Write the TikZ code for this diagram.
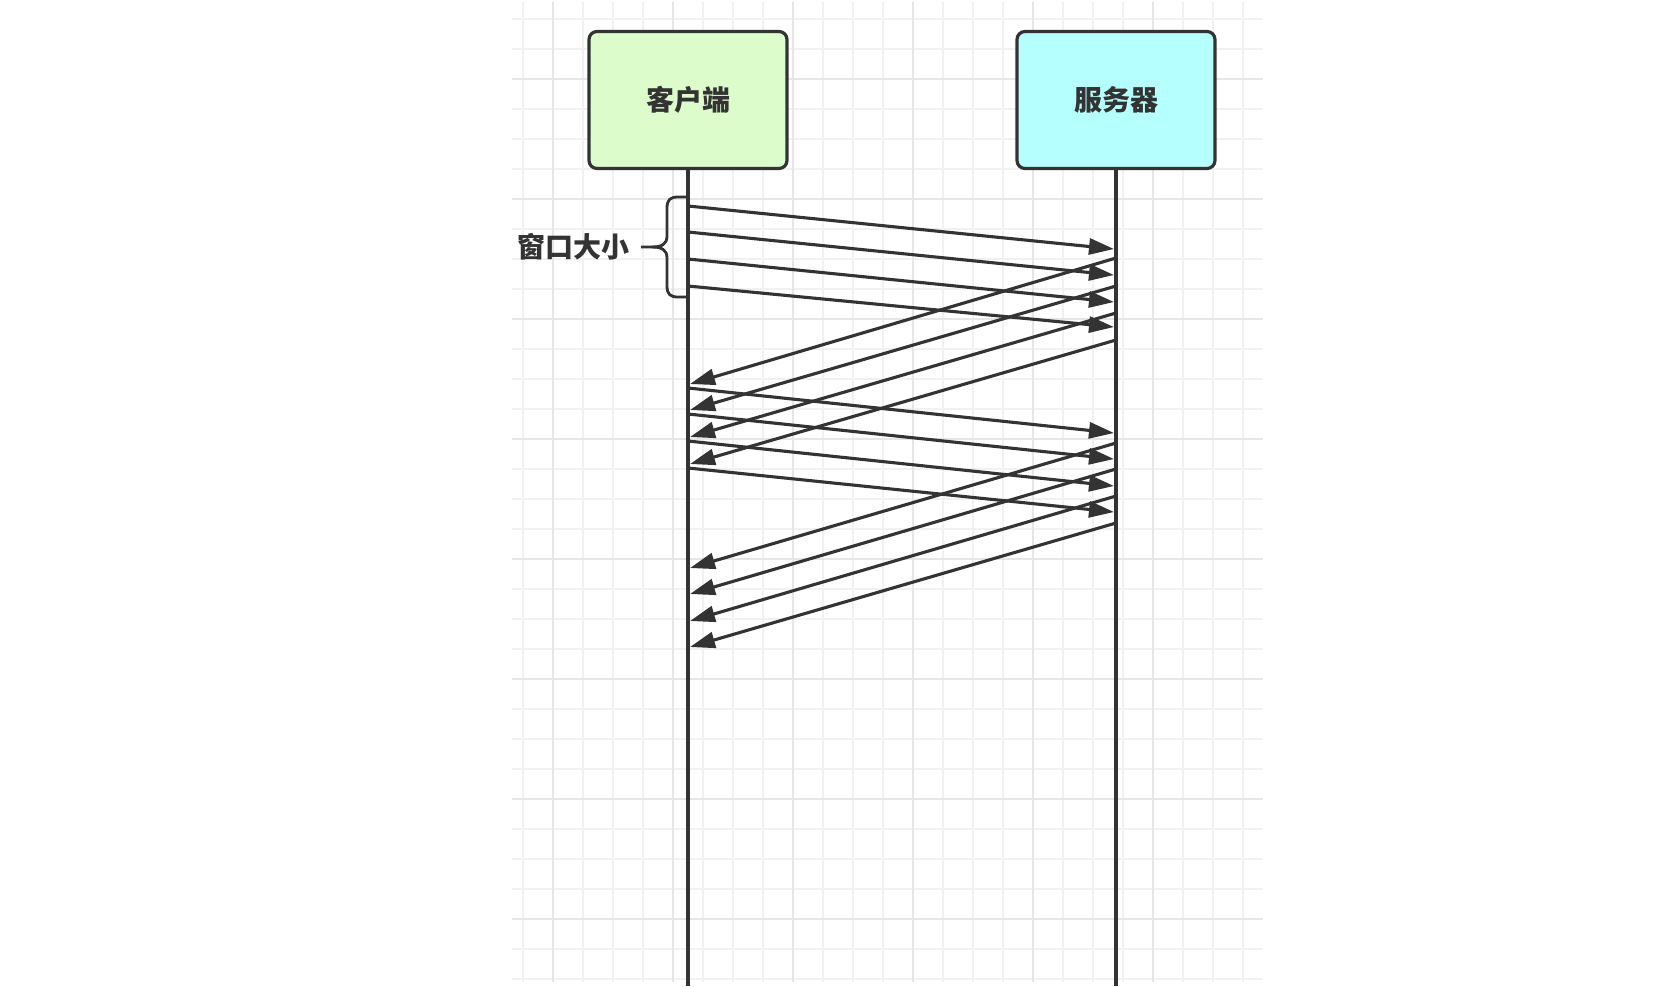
\documentclass[tikz,border=0pt]{standalone}
\usepackage{fontspec}
\newfontfamily\cjk{Noto Sans CJK SC}
\usetikzlibrary{arrows.meta}
\definecolor{ink}{HTML}{333333}
\definecolor{cgreen}{HTML}{DCFCCB}
\definecolor{ccyan}{HTML}{B5FFFE}
\definecolor{gminor}{HTML}{F1F1F1}
\definecolor{gmajor}{HTML}{E6E6E6}
\tikzset{
  minorline/.style={gminor, line width=1.6pt},
  majorline/.style={gmajor, line width=2pt},
  actor/.style={draw=ink, line width=3.2pt, rounded corners=8pt, minimum width=198pt, minimum height=137pt, inner sep=0pt, text=ink, font=\cjk\bfseries\fontsize{28}{32}\selectfont},
  lifeline/.style={ink, line width=3.2pt},
  msg/.style={ink, line width=3.1pt, -{Triangle[length=25pt, width=16pt]}},
  bracepath/.style={ink, line width=2.8pt, line join=round},
  lbl/.style={text=ink, inner sep=0pt, font=\cjk\bfseries\fontsize{28}{32}\selectfont}
}
\begin{document}
\begin{tikzpicture}[x=1pt,y=-1pt]
\useasboundingbox (0,0) rectangle (1678,986);
\fill[white] (0,0) rectangle (1678,986);
% grid
\foreach \i in {0,...,24} \draw[minorline] ({522.7+30*\i},2) -- ({522.7+30*\i},982);
\foreach \j in {0,...,32} \draw[minorline] (512,{19+30*\j}) -- (1263,{19+30*\j});
\foreach \i in {0,...,5} \draw[majorline] ({552.7+120*\i},2) -- ({552.7+120*\i},982);
\foreach \j in {0,...,7} \draw[majorline] (512,{79+120*\j}) -- (1263,{79+120*\j});
% actors
\node[actor, fill=cgreen] (client) at (688,100) {客户端};
\node[actor, fill=ccyan] (server) at (1116,100) {服务器};
\coordinate (cbot) at (688,986);
\coordinate (sbot) at (1116,986);
\draw[lifeline] (client.south) -- (cbot);
\draw[lifeline] (server.south) -- (sbot);
% window brace
\coordinate (brtop) at (688,197);
\coordinate (brbot) at (688,297);
\coordinate (brtip) at (641,247);
\draw[bracepath] (brtop) -- (678,197) .. controls (670,197) and (667,200) .. (667,208) -- (667,236) .. controls (667,244) and (662,247) .. (652,247) -- (brtip);
\draw[bracepath] (652,247) .. controls (662,247) and (667,250) .. (667,258) -- (667,286) .. controls (667,294) and (670,297) .. (678,297) -- (brbot);
\node[lbl, anchor=east] (win) at (630,247) {窗口大小};
% data batch 1
\foreach \n/\a/\b in {1/206/249, 2/232/275, 3/259/302, 4/286/327} {
  \coordinate (da\n) at (688,\a);
  \coordinate (db\n) at (1114,\b);
  \draw[msg] (da\n) -- (db\n);
}
% ack batch 1
\foreach \n/\a/\b in {1/258/384, 2/286/410, 3/313/437, 4/340/464} {
  \coordinate (aa\n) at (1116,\a);
  \coordinate (ab\n) at (690,\b);
  \draw[msg] (aa\n) -- (ab\n);
}
% data batch 2
\foreach \n/\a/\b in {1/388/433, 2/414/459, 3/441/486, 4/468/512} {
  \coordinate (dc\n) at (688,\a);
  \coordinate (dd\n) at (1114,\b);
  \draw[msg] (dc\n) -- (dd\n);
}
% ack batch 2
\foreach \n/\a/\b in {1/443/568, 2/469/594, 3/496/621, 4/523/647} {
  \coordinate (ac\n) at (1116,\a);
  \coordinate (ad\n) at (690,\b);
  \draw[msg] (ac\n) -- (ad\n);
}
\end{tikzpicture}
\end{document}
